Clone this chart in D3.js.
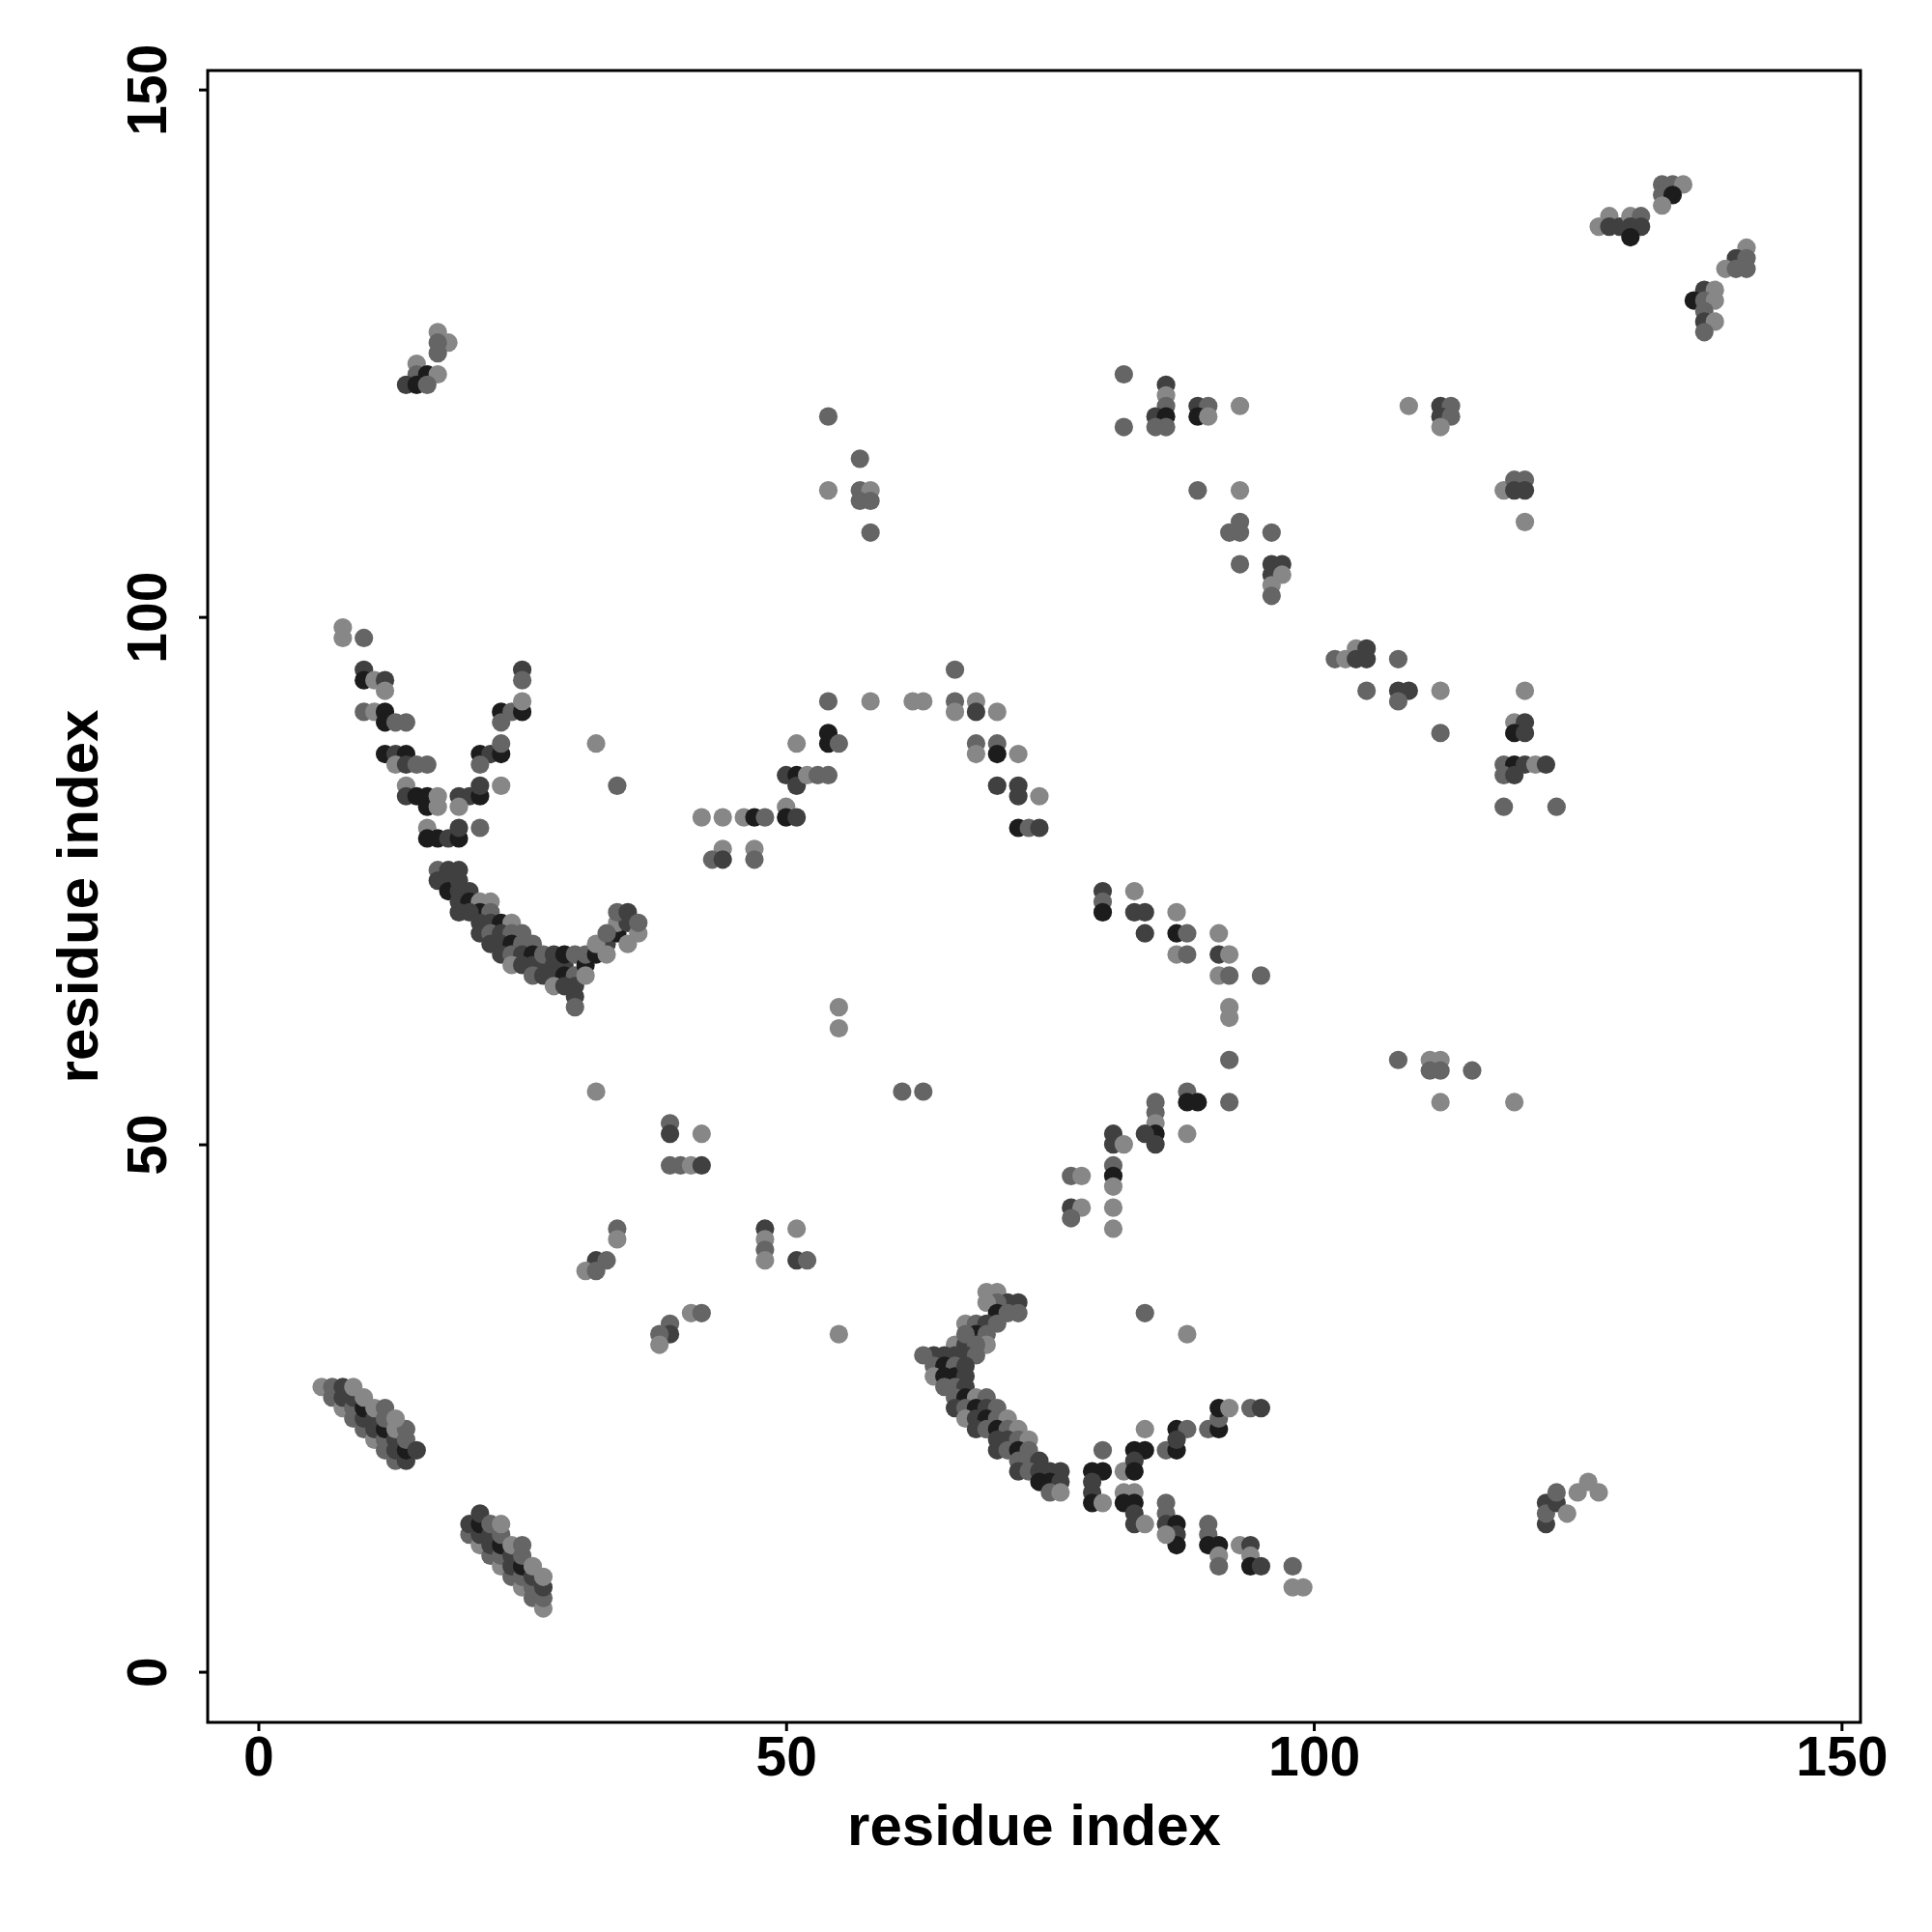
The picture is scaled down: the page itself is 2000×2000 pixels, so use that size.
<!DOCTYPE html>
<html>
<head>
<meta charset="utf-8">
<script src="https://cdn.jsdelivr.net/npm/d3@7/dist/d3.min.js"></script>
<style>
  html, body { margin: 0; padding: 0; background: #fff; }
  svg { display: block; }
</style>
</head>
<body>
<svg id="chart" width="2000" height="2000"></svg>
<script>
// Each contact: [residue i, residue j, contact-strength level 1..4]
const strandA = [
  [6,27,1],[7,26,2],[8,25,1],[9,24,2],[10,23,2],[11,22,1],[12,21,2],[13,20,2],
  [7,27,2],[8,26,3],[9,25,2],[10,24,3],[11,23,3],[12,22,2],[13,21,3],[14,20,3],
  [8,27,3],[9,26,3],[10,25,4],[11,24,3],[12,23,4],[13,22,3],[14,21,4],
  [9,27,1],[10,26,1],[11,25,1],[12,24,2],[13,23,1],[14,22,2],[15,21,3],
  [12,25,2],[14,23,2],[13,24,1]
];
const strandB = [
  [20,13,2],[21,12,1],[22,11,2],[23,10,1],[24,9,2],[25,8,1],[26,7,2],[27,6,1],
  [20,14,3],[21,13,3],[22,12,3],[23,11,2],[24,10,3],[25,9,2],[26,8,2],[27,7,2],
  [21,14,4],[22,13,3],[23,12,4],[24,11,3],[25,10,4],[26,9,3],[27,8,3],
  [21,15,3],[22,14,2],[23,13,2],[24,12,1],[25,11,2],[26,10,1],[27,9,1],
  [23,14,1],[25,12,2]
];
const clusterC = [
  [69,36,1],[70,36,1],[71,35,3],[72,35,3],[72,34,2],[70,35,2],[69,35,1],[70,34,4],[71,34,2],
  [67,33,1],[68,33,2],[69,33,3],[70,33,2],[68,32,4],[69,32,2],[69,31,1],[66,31,1],[67,31,3],
  [67,32,2],[68,31,2],[67,30,3],[68,30,2],[66,30,3],[65,30,3],[64,30,3],[63,30,2],
  [64,29,2],[65,29,4],[66,29,2],[64,28,1],[65,28,4],[66,28,4],[67,28,3],[67,29,3],
  [65,27,2],[66,27,2],[67,27,3],[66,26,2],[67,26,4],[68,26,1],[69,26,2],
  [66,25,3],[67,25,2],[68,25,4],[69,25,3],[70,25,2],[67,24,1],[68,24,3],[69,24,4],
  [70,24,2],[71,24,1],[68,23,3],[69,23,2],[70,23,4],[71,23,2],[72,23,1],
  [70,22,3],[71,22,3],[72,22,2],[73,22,1],[70,21,3],[71,21,2],[72,21,4],[73,21,2],
  [72,20,2],[73,20,2],[74,20,3],[72,19,3],[73,19,2],[74,19,3],[75,19,3],[76,19,3],
  [74,18,4],[75,18,4],[76,18,3],[75,17,2],[76,17,1]
];
const clusterC2 = [
  [79,19,4],[80,19,4],[79,18,3],[79,17,3],[79,16,4],[80,16,1],[80,21,2],[82,19,1],
  [83,21,4],[84,21,4],[83,20,3],[83,19,4],[84,23,1],[82,17,1],[83,17,1],[82,16,4],
  [83,16,4],[83,15,3],[83,14,3],[84,14,1],[86,16,2],[86,15,2],[86,14,3],[87,14,4],
  [87,13,3],[87,12,4],[86,13,1],[86,21,2],[87,21,4],[87,23,4],[88,23,2],[87,22,3],
  [90,23,2],[91,23,4],[91,24,2],[91,25,4],[92,25,1],[94,25,2],[95,25,3],
  [90,14,2],[90,13,2],[90,12,4],[91,12,4],[91,11,1],[91,10,2],[93,12,1],[94,12,3],
  [94,11,1],[94,10,4],[95,10,3],[98,10,2],[98,8,1],[99,8,1],[84,34,2],[88,32,1]
];
const clusterD = [
  [8,99,1],[8,98,1],[10,98,2],
  [10,95,3],[10,94,4],[11,94,1],[12,94,3],[12,93,1],
  [10,91,2],[11,91,1],[12,91,4],[12,90,4],[13,90,2],[14,90,2],
  [12,87,4],[13,87,3],[14,87,4],[13,86,1],[14,86,3],[15,86,2],[16,86,2],
  [14,84,1],[14,83,3],[15,83,4],[16,83,4],[16,82,4],[17,83,1],[17,82,1],
  [16,80,1],[16,79,4],[17,79,4],[18,79,3],[19,79,4],[19,80,3],[21,80,2],
  [19,83,3],[20,83,3],[21,83,4],[21,84,3],[19,82,1],[23,84,1],
  [21,87,4],[22,87,3],[23,87,4],[23,88,2],[21,86,2],
  [23,91,4],[23,90,2],[24,91,2],[25,91,4],[25,92,1],[25,95,3],[25,94,2],
  [32,88,1],[34,84,2]
];
const clusterD2 = [
  [17,76,2],[18,76,3],[19,76,3],[17,75,3],[18,75,3],[18,74,4],[19,74,3],[19,75,3],
  [20,74,3],[19,73,3],[20,73,4],[19,72,3],[21,73,1],[22,73,1],[21,72,4],[20,72,3],
  [22,72,2],[21,71,3],[22,71,3],[23,71,4],[24,71,1],[21,70,3],[22,70,2],[23,70,3],
  [24,70,2],[25,70,2],[22,69,3],[23,69,3],[24,69,4],[25,69,2],[26,69,2],[23,68,3],
  [24,68,2],[25,68,3],[26,68,4],[24,67,1],[25,67,3],[26,67,3],[27,67,3],[27,68,2],
  [28,67,3],[28,68,3],[29,67,3],[29,68,4],[26,66,2],[27,66,3],[28,66,3],[29,66,4],
  [30,66,2],[28,65,1],[29,65,3],[30,65,3],[30,64,3],[30,63,2],[30,68,2],[31,67,4],
  [31,66,1],[31,68,2],[32,68,4],[33,69,3],[33,68,1],[32,69,1],[34,70,4],[34,71,1],
  [35,71,3],[36,70,1],[35,69,1],[34,72,2],[35,72,3],[33,70,2],[36,71,2]
];
const clusterE = [
  [66,95,2],[54,92,2],[58,92,1],[62,92,1],[63,92,1],[66,92,2],[66,91,1],[68,92,1],
  [68,91,3],[70,91,1],[51,88,1],[54,89,4],[54,88,4],[55,88,2],[68,88,2],[68,87,1],
  [70,88,2],[70,87,4],[72,87,1],[50,85,3],[51,85,4],[51,84,3],[52,85,1],[53,85,2],
  [54,85,2],[70,84,3],[72,84,3],[72,83,3],[74,83,1],[42,81,1],[44,81,1],[46,81,1],
  [47,81,4],[48,81,2],[50,82,1],[50,81,4],[51,81,3],[72,80,4],[73,80,2],[74,80,3],
  [44,78,1],[43,77,2],[44,77,3],[47,78,1],[47,77,2]
];
const clusterF = [
  [32,55,1],[39,52,2],[39,51,3],[42,51,1],[39,48,2],[40,48,2],[41,48,1],[42,48,3],
  [34,42,2],[34,41,1],[32,39,3],[33,39,2],[31,38,1],[32,38,2],
  [48,42,3],[48,41,1],[48,40,2],[48,39,1],[51,42,1],[51,39,3],[52,39,2],
  [41,34,1],[42,34,2],[39,33,2],[39,32,3],[38,32,2],[38,31,1],[55,32,1],
  [55,63,1],[55,61,1],[61,55,2],[63,55,2]
];
const clusterG = [
  [80,74,3],[80,73,2],[80,72,4],[83,74,1],[83,72,3],[84,72,3],[84,70,3],[87,72,1],
  [87,70,4],[88,70,2],[87,68,1],[88,68,2],[91,70,1],[91,68,3],[92,68,1],[91,66,1],
  [92,66,2],[95,66,2],[92,63,1],[92,62,1],[92,58,2],[92,54,2],
  [88,55,2],[88,54,4],[89,54,4],[88,51,1],[85,54,2],[85,53,2],[85,52,1],[85,51,4],
  [84,51,3],[85,50,3],[81,51,3],[81,50,3],[82,50,1],[81,48,2],[81,47,4],[81,46,1],
  [81,44,1],[81,42,1],[77,47,2],[78,47,1],[77,44,3],[78,44,1],[77,43,2]
];
const clusterH = [
  [17,127,1],[18,126,1],[17,126,2],[17,125,2],[15,124,1],[15,123,2],[16,123,4],
  [17,123,1],[14,122,3],[15,122,4],[16,122,2]
];
const clusterI = [
  [54,119,2],[57,115,2],[54,112,1],[57,112,2],[58,112,1],[57,111,2],[58,111,2],[58,108,2]
];
const clusterJ = [
  [82,123,2],[82,118,2],[86,122,3],[86,121,1],[86,120,2],[85,119,3],[86,119,4],[85,118,2],
  [86,118,2],[89,120,3],[90,120,2],[89,119,4],[90,119,1],[93,120,1],[89,112,2],[93,112,1],
  [93,109,2],[92,108,2],[93,108,2],[96,108,2],[93,105,2],[96,105,3],[97,105,3],[96,104,3],
  [97,104,1],[96,103,1],[96,102,2]
];
const clusterK = [
  [109,120,1],[112,120,3],[113,120,2],[112,119,3],[113,119,2],[112,118,1],[118,112,1],
  [119,113,2],[120,113,2],[119,112,3],[120,112,3],[120,109,1],
  [102,96,2],[103,96,1],[104,97,1],[104,96,3],[105,97,3],[105,96,3],[108,96,2],[105,93,2],
  [108,93,3],[109,93,3],[108,92,2],[112,93,1],[120,93,1],[112,89,2],[119,90,1],[120,90,3],
  [119,89,4],[120,89,3],[118,86,2],[119,86,4],[120,86,3],[121,86,1],[122,86,3],[118,85,2],
  [119,85,3],[118,82,2],[123,82,2]
];
const clusterL = [
  [133,141,2],[134,141,2],[135,141,1],[133,140,2],[134,140,4],[133,139,1],
  [127,137,1],[128,138,1],[128,137,3],[129,137,3],[130,138,1],[131,138,2],[130,137,3],
  [131,137,3],[130,136,4],[141,135,1],[140,134,3],[141,134,2],[139,133,1],[140,133,2],
  [141,133,2],[137,131,3],[138,131,1],[136,130,4],[137,130,2],[138,130,1],[137,129,2],
  [137,128,3],[138,128,1],[137,127,2]
];
const clusterM = [
  [108,58,2],[111,58,1],[112,58,1],[111,57,2],[112,57,2],[115,57,2],[112,54,1],[119,54,1]
];
const clusterN = [
  [122,16,3],[122,14,3],[122,15,2],[123,16,3],[123,17,2],[124,15,1],[125,17,1],[126,18,1],[127,17,1]
];

const xTicks = [0, 50, 100, 150];
const yTicks = [0, 50, 100, 150];
const xLabel = "residue index";
const yLabel = "residue index";
const levelColors = ["#878787", "#656565", "#404040", "#1c1c1c"];

const contacts = [].concat(strandA, strandB, clusterC, clusterC2, clusterD, clusterD2,
  clusterE, clusterF, clusterG, clusterH, clusterI, clusterJ, clusterK, clusterL,
  clusterM, clusterN);

const L = 215, R = 1926, T = 73, B = 1783;
const x = d3.scaleLinear().domain([-4.8, 151.8]).range([L, R]);
const y = d3.scaleLinear().domain([-4.8, 151.8]).range([B, T]);
const color = d3.scaleOrdinal().domain([1, 2, 3, 4]).range(levelColors);

const svg = d3.select("#chart");
const font = "'Liberation Sans', Arial, Helvetica, sans-serif";

svg.append("g").selectAll("circle").data(contacts).join("circle")
  .attr("cx", d => x(d[0]))
  .attr("cy", d => y(d[1]))
  .attr("r", 9.6)
  .attr("fill", d => color(d[2]));

svg.append("rect")
  .attr("x", L).attr("y", T).attr("width", R - L).attr("height", B - T)
  .attr("fill", "none").attr("stroke", "#000").attr("stroke-width", 3);

const xAxis = d3.axisBottom(x).tickValues(xTicks).tickSize(9).tickPadding(6).tickFormat(d3.format("d"));
const gx = svg.append("g").attr("transform", `translate(0,${B})`).call(xAxis);
gx.select(".domain").remove();
gx.selectAll(".tick line").attr("stroke", "#000").attr("stroke-width", 3);
gx.selectAll(".tick text").attr("font-family", font).attr("font-weight", "bold")
  .attr("font-size", 57).attr("fill", "#000").attr("dy", null).attr("y", 55);

const yAxis = d3.axisLeft(y).tickValues(yTicks).tickSize(9).tickFormat(d3.format("d"));
const gy = svg.append("g").attr("transform", `translate(${L},0)`).call(yAxis);
gy.select(".domain").remove();
gy.selectAll(".tick line").attr("stroke", "#000").attr("stroke-width", 3);
gy.selectAll(".tick text").attr("font-family", font).attr("font-weight", "bold")
  .attr("font-size", 57).attr("fill", "#000")
  .attr("x", null).attr("dy", null)
  .attr("text-anchor", "middle")
  .attr("transform", `translate(${172 - L},0) rotate(-90)`);

svg.append("text")
  .attr("x", (L + R) / 2).attr("y", 1910)
  .attr("text-anchor", "middle")
  .attr("font-family", font).attr("font-weight", "bold").attr("font-size", 60)
  .text(xLabel);

svg.append("text")
  .attr("transform", `translate(101,${(T + B) / 2}) rotate(-90)`)
  .attr("text-anchor", "middle")
  .attr("font-family", font).attr("font-weight", "bold").attr("font-size", 60)
  .text(yLabel);
</script>
</body>
</html>
